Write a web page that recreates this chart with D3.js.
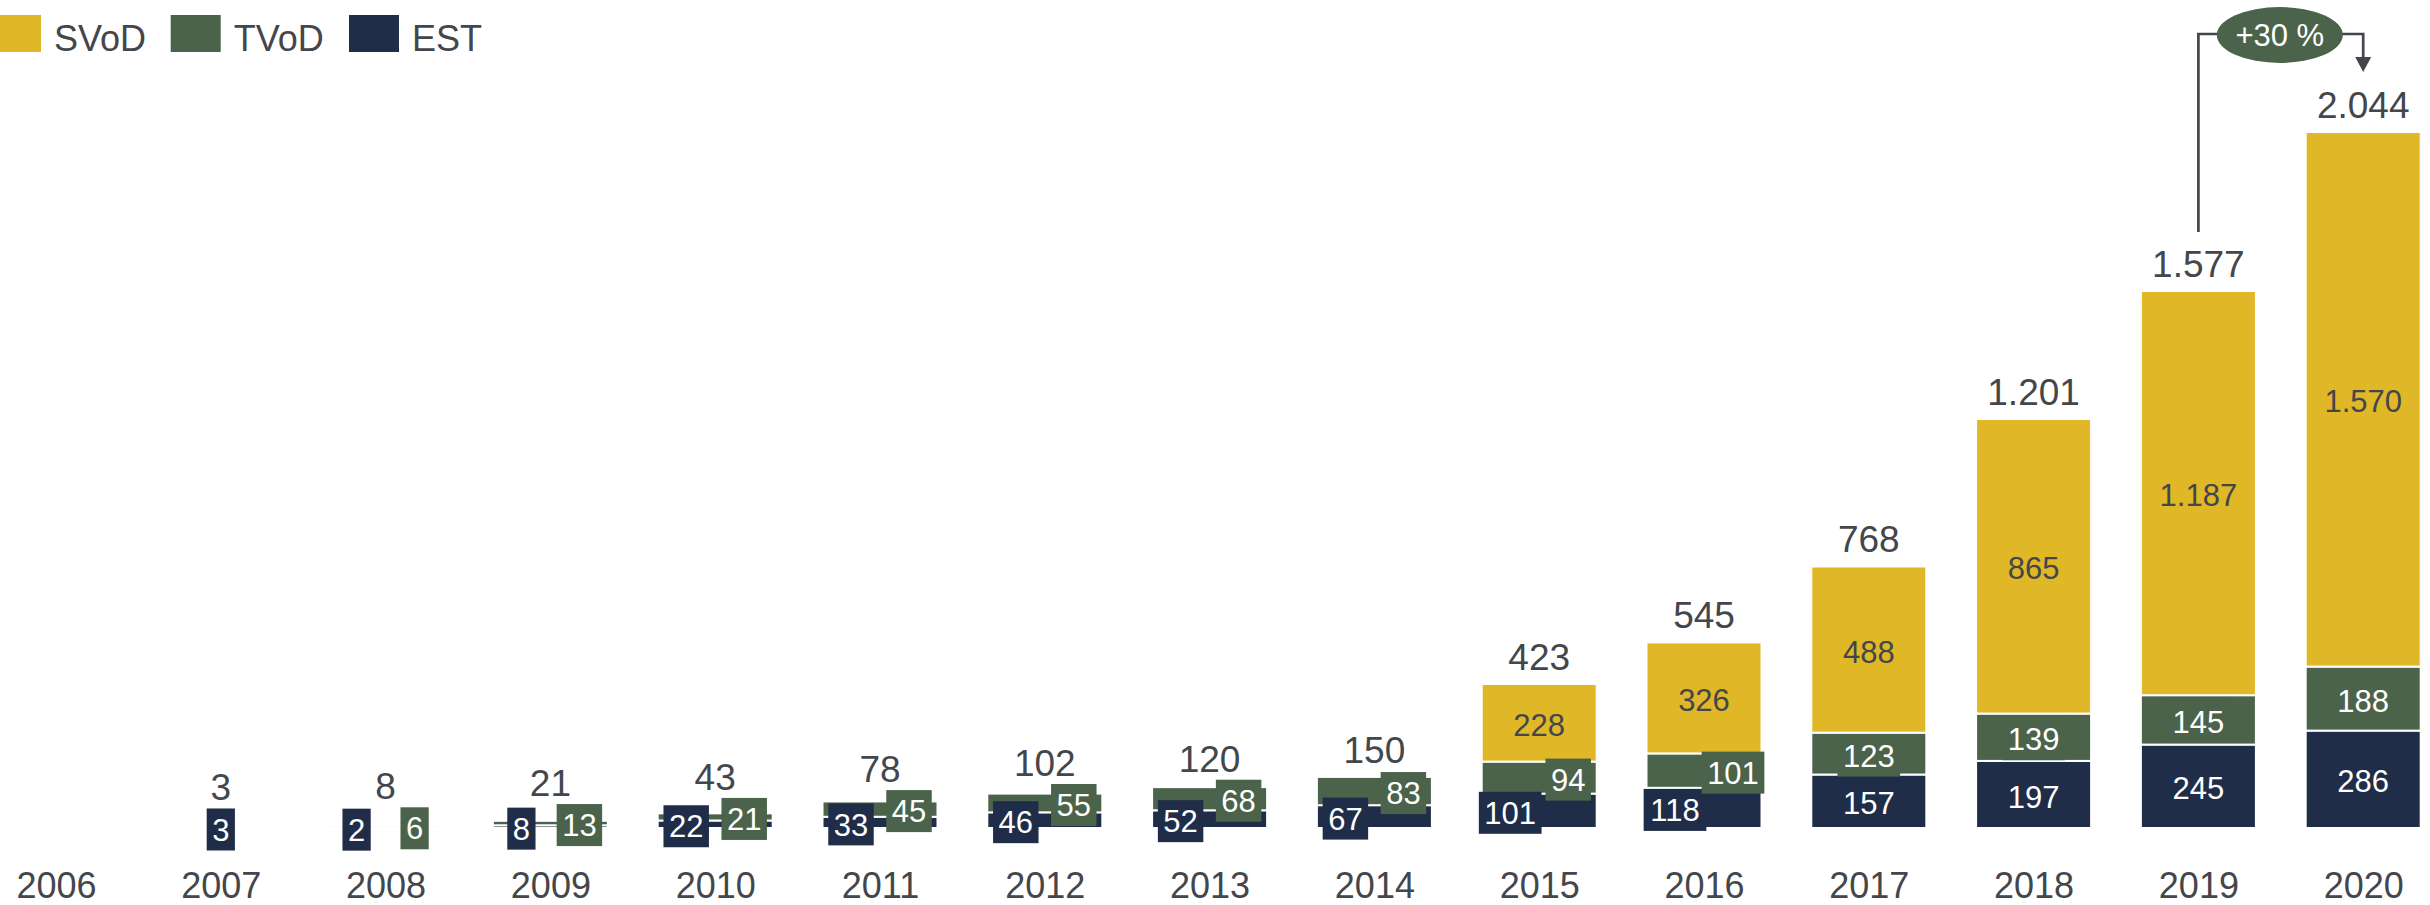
<!DOCTYPE html>
<html>
<head>
<meta charset="utf-8">
<script src="https://cdn.jsdelivr.net/npm/d3@7"></script>
<style>
  html, body { margin: 0; padding: 0; background: #ffffff; }
  svg { display: block; font-family: "Liberation Sans", Arial, Helvetica, sans-serif; }
</style>
</head>
<body>
<svg id="chart" width="2430" height="905"></svg>
<script>
// Video-on-demand revenue by business model, 2006–2020
const years  = ["2006","2007","2008","2009","2010","2011","2012","2013","2014","2015","2016","2017","2018","2019","2020"];
const est    = [0, 3, 2, 8, 22, 33, 46, 52, 67, 101, 118, 157, 197, 245, 286];
const tvod   = [0, 0, 6, 13, 21, 45, 55, 68, 83, 94, 101, 123, 139, 145, 188];
const svod   = [0, 0, 0, 0, 0, 0, 0, 0, 0, 228, 326, 488, 865, 1187, 1570];
const totals = [null, 3, 8, 21, 43, 78, 102, 120, 150, 423, 545, 768, 1201, 1577, 2044];

const seriesNames  = ["EST", "TVoD", "SVoD"];
const legendOrder  = ["SVoD", "TVoD", "EST"];
const colors = { SVoD: "#e0b726", TVoD: "#4b634a", EST: "#202d48" };
const textDark = "#43464b";

const de = d3.formatLocale({ decimal: ",", thousands: ".", grouping: [3], currency: ["", " €"] });
const fmt = de.format(",d");

const svg = d3.select("#chart");

// scales
const x = d3.scalePoint().domain(years).range([56, 56 + 14 * 164.8]);
const barW = 115;
const y = d3.scaleLinear().domain([0, 2044]).range([828, 132]);

// stacked layout
const rows = years.map((yr, i) => ({ year: yr, EST: est[i], TVoD: tvod[i], SVoD: svod[i], total: totals[i] }));
const stack = d3.stack().keys(seriesNames)(rows);

// bars
const gBars = svg.append("g");
stack.forEach(layer => {
  gBars.selectAll(null)
    .data(layer.filter(d => d[1] - d[0] > 0))
    .join("rect")
    .attr("x", d => x(d.data.year) - barW / 2)
    .attr("width", barW)
    .attr("y", d => y(d[1]))
    .attr("height", d => y(d[0]) - y(d[1]))
    .attr("fill", colors[layer.key])
    .attr("stroke", "#ffffff")
    .attr("stroke-width", 2);
});

// segment labels
const boxH = 42, padX = 5.5, labelFont = 31, shiftY = 2;
const gLabels = svg.append("g").attr("font-size", labelFont);
const boxTops = {};

rows.forEach((row, i) => {
  const cx = x(row.year);
  const estC = (y(0) + y(row.EST)) / 2 + shiftY;
  const tvC  = (y(row.EST) + y(row.EST + row.TVoD)) / 2 + shiftY;
  const crowded = row.EST > 0 && row.TVoD > 0 && Math.abs(estC - tvC) < boxH;
  const items = [];
  if (row.EST > 0)  items.push({ key: "EST",  v: row.EST,  cx: cx + (crowded ? -29 : 0), cy: estC });
  if (row.TVoD > 0) items.push({ key: "TVoD", v: row.TVoD, cx: cx + (crowded ? 29 : 0),  cy: tvC });
  items.forEach(it => {
    const t = fmt(it.v);
    const w = t.length * labelFont * 0.556 + 2 * padX;
    gLabels.append("rect")
      .attr("x", it.cx - w / 2).attr("y", it.cy - boxH / 2)
      .attr("width", w).attr("height", boxH)
      .attr("fill", colors[it.key]);
    gLabels.append("text")
      .attr("x", it.cx).attr("y", it.cy).attr("dy", "0.36em")
      .attr("text-anchor", "middle").attr("fill", "#ffffff")
      .text(t);
    boxTops[row.year] = Math.min(boxTops[row.year] ?? Infinity, it.cy - boxH / 2);
  });
  if (row.SVoD > 0) {
    const sc = (y(row.EST + row.TVoD) + y(row.EST + row.TVoD + row.SVoD)) / 2 + shiftY;
    gLabels.append("text")
      .attr("x", cx).attr("y", sc).attr("dy", "0.36em")
      .attr("text-anchor", "middle").attr("fill", textDark)
      .text(fmt(row.SVoD));
  }
});

// totals above each stack
const gTotals = svg.append("g").attr("font-size", 37).attr("fill", textDark).attr("text-anchor", "middle");
rows.forEach(row => {
  if (row.total == null) return;
  const base = Math.min(y(row.total) - 14, (boxTops[row.year] ?? Infinity) - 8);
  gTotals.append("text").attr("x", x(row.year)).attr("y", base).text(fmt(row.total));
});

// x axis (labels only)
const xAxis = svg.append("g")
  .attr("transform", "translate(0,862)")
  .call(d3.axisBottom(x).tickSize(0).tickPadding(0));
xAxis.select(".domain").remove();
xAxis.selectAll("text")
  .attr("font-size", 36)
  .attr("font-family", "Liberation Sans, Arial, sans-serif")
  .attr("fill", textDark)
  .attr("dy", "1em");

// legend
const legendX = [-9, 170.7, 349];
const gLegend = svg.append("g");
legendOrder.forEach((k, i) => {
  gLegend.append("rect").attr("x", legendX[i]).attr("y", 15).attr("width", 50).attr("height", 37).attr("fill", colors[k]);
  gLegend.append("text").attr("x", legendX[i] + 63).attr("y", 50.5)
    .attr("font-size", 36).attr("fill", textDark).text(k);
});

// growth annotation between the last two years
const prevYear = years[years.length - 2], lastYear = years[years.length - 1];
const growth = Math.round((totals[totals.length - 1] / totals[totals.length - 2] - 1) * 100);
const xa = x(prevYear), xb = x(lastYear);
const topY = 34;
const gAnn = svg.append("g");
gAnn.append("path")
  .attr("d", `M${xa},${y(totals[totals.length - 2]) - 59} V${topY} H${xb} V${60}`)
  .attr("fill", "none").attr("stroke", textDark).attr("stroke-width", 2.7);
gAnn.append("path")
  .attr("d", `M${xb - 8},${57} L${xb + 8},${57} L${xb},${72} Z`)
  .attr("fill", textDark);
const ex = (xa + xb) / 2 - 1;
gAnn.append("ellipse").attr("cx", ex).attr("cy", 35).attr("rx", 63).attr("ry", 28).attr("fill", colors.TVoD);
gAnn.append("text").attr("x", ex).attr("y", 35).attr("dy", "0.36em")
  .attr("text-anchor", "middle").attr("font-size", 31).attr("fill", "#ffffff")
  .text(`+${growth} %`);
</script>
</body>
</html>
